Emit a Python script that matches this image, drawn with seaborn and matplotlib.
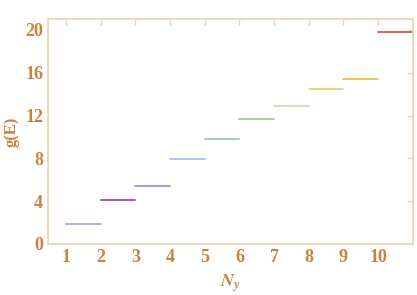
import matplotlib
matplotlib.use("Agg")
import matplotlib.pyplot as plt
import seaborn as sns
import pandas as pd

# step levels g(E) for each N_y interval [N, N+1]
n_y = [1, 2, 3, 4, 5, 6, 7, 8, 9, 10]
g_e = [1.82, 4.07, 5.44, 7.93, 9.77, 11.66, 12.87, 14.52, 15.45, 19.84]
seg_colors = ['#b0a8dc', '#9c48b0', '#a090dc', '#a8c0ec', '#98c4d0',
              '#a0cc98', '#cce0a8', '#dcd478', '#e4c050', '#d85454']
x_ticks = [1, 2, 3, 4, 5, 6, 7, 8, 9, 10]
y_ticks = [0, 4, 8, 12, 16, 20]

rows = []
for n, g in zip(n_y, g_e):
    rows.append({'x': n, 'g': g, 'seg': str(n)})
    rows.append({'x': n + 1, 'g': g, 'seg': str(n)})
df = pd.DataFrame(rows)

sns.set_style("white")
plt.rcParams['font.family'] = ['Liberation Serif', 'DejaVu Serif']

frame_col = '#f2d2b4'
text_col = '#c8823e'

fig, ax = plt.subplots(figsize=(4.17, 2.95), dpi=100)
sns.lineplot(data=df, x='x', y='g', hue='seg', palette=seg_colors,
             linewidth=1.3, legend=False, ax=ax)

ax.set_xlim(0.48, 11.0)
ax.set_ylim(0, 21)
ax.set_xticks(x_ticks)
ax.set_yticks(y_ticks)
ax.tick_params(direction='in', length=4, width=1, color=frame_col,
               labelcolor=text_col, labelsize=13, top=True, right=True,
               labeltop=False, labelright=False)
for lab in ax.get_xticklabels() + ax.get_yticklabels():
    lab.set_fontweight('bold')
for sp in ax.spines.values():
    sp.set_color(frame_col)
    sp.set_linewidth(1.3)

ax.set_xlabel('')
ax.text(0.5, -0.173, r'$\mathbfit{N_y}$', transform=ax.transAxes,
        ha='center', va='center', color=text_col, fontsize=13,
        math_fontfamily='stix')
ax.set_ylabel('g(E)', color=text_col, fontsize=12, fontweight='bold', labelpad=4)

plt.subplots_adjust(left=0.115, right=0.99, top=0.935, bottom=0.173)
plt.savefig('out.png', dpi=100)
